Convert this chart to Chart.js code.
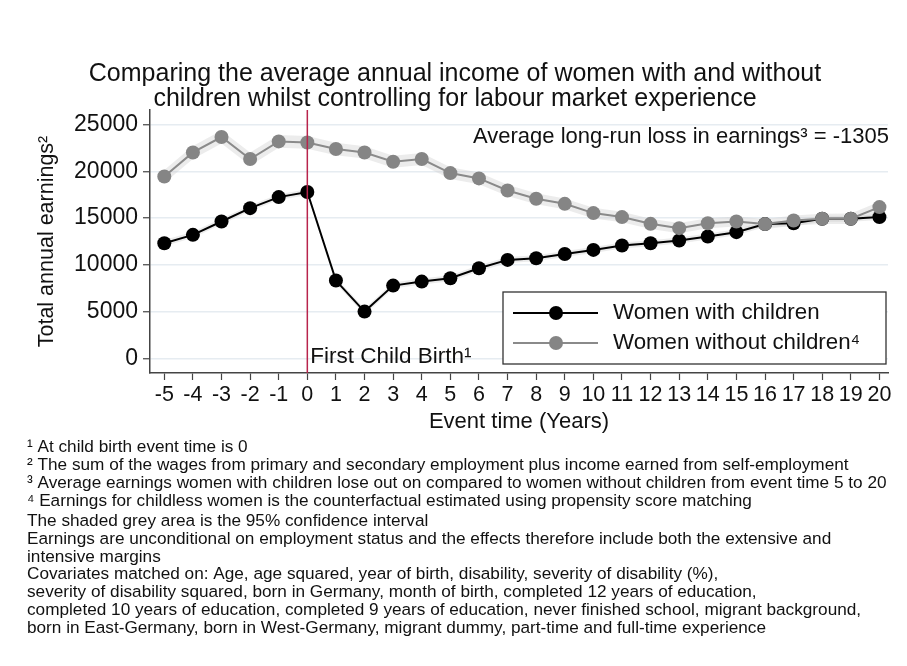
<!DOCTYPE html>
<html>
<head>
<meta charset="utf-8">
<script src="https://cdn.jsdelivr.net/npm/chart.js@4.4.1/dist/chart.umd.min.js"></script>
<style>
  html, body { margin: 0; padding: 0; background: #fff; }
  #wrap { width: 907px; height: 666px; position: relative; }
</style>
</head>
<body>
<div id="wrap"><canvas id="myChart"></canvas></div>
<script>
// Event time (years), first child birth at 0
const eventTimes = [-5, -4, -3, -2, -1, 0, 1, 2, 3, 4, 5, 6, 7, 8, 9, 10, 11, 12, 13, 14, 15, 16, 17, 18, 19, 20];
const yTicks = [0, 5000, 10000, 15000, 20000, 25000];

// Women with children
const withChildren = [12320, 13210, 14640, 16070, 17250, 17790, 8320, 5000, 7780, 8210, 8570, 9640, 10530, 10710, 11170, 11600, 12070, 12320, 12600, 13030, 13500, 14360, 14460, 14930, 14930, 15110];
const withHi = [12650, 13530, 14950, 16380, 17560, 18100, 8650, 5330, 8100, 8530, 8890, 9960, 10850, 11030, 11490, 11920, 12390, 12640, 12920, 13350, 13820, 14680, 14780, 15250, 15250, 15430];
const withLo = [11990, 12890, 14330, 15760, 16940, 17480, 7990, 4670, 7460, 7890, 8250, 9320, 10210, 10390, 10850, 11280, 11750, 12000, 12280, 12710, 13180, 14040, 14140, 14610, 14610, 14790];

// Women without children (matched counterfactual)
const withoutChildren = [19460, 22030, 23680, 21320, 23210, 23100, 22390, 22030, 21030, 21320, 19820, 19250, 17960, 17070, 16530, 15540, 15110, 14390, 13930, 14460, 14640, 14360, 14750, 14930, 14930, 16180];
const withoutHi = [20150, 22720, 24380, 22010, 23900, 23780, 23060, 22690, 21680, 21960, 20450, 19870, 18560, 17660, 17110, 16110, 15670, 14940, 14470, 15000, 15180, 14900, 15290, 15480, 15490, 16750];
const withoutLo = [18770, 21340, 22980, 20630, 22520, 22420, 21720, 21370, 20380, 20680, 19190, 18630, 17360, 16480, 15950, 14970, 14550, 13840, 13390, 13920, 14100, 13820, 14210, 14380, 14370, 15610];

const titleLines = [
  "Comparing the average annual income of women with and without",
  "children whilst controlling for labour market experience",
];
const lossNote = "Average long-run loss in earnings\u00B3 = -1305";
const birthNote = "First Child Birth\u00B9";
const footnotes = [
  "\u00B9 At child birth event time is 0",
  "\u00B2 The sum of the wages from primary and secondary employment plus income earned from self-employment",
  "\u00B3 Average earnings women with children lose out on compared to women without children from event time 5 to 20",
  "\u2074 Earnings for childless women is the counterfactual estimated using propensity score matching",
];
const notes = [
  "The shaded grey area is the 95% confidence interval",
  "Earnings are unconditional on employment status and the effects therefore include both the extensive and",
  "intensive margins",
  "Covariates matched on: Age, age squared, year of birth, disability, severity of disability (%),",
  "severity of disability squared, born in Germany, month of birth, completed 12 years of education,",
  "completed 10 years of education, completed 9 years of education, never finished school, migrant background,",
  "born in East-Germany, born in West-Germany, migrant dummy, part-time and full-time experience",
];

const FONT = '"Liberation Sans", Arial, Helvetica, sans-serif';
const pts = (arr) => eventTimes.map((x, i) => ({ x: x, y: arr[i] }));

// titles, notes, birth marker, legend box
const extras = {
  id: "extras",
  afterDatasetsDraw(chart) {
    const ctx = chart.ctx;
    const xs = chart.scales.x;
    const area = chart.chartArea;
    ctx.save();
    // birth line
    const x0 = xs.getPixelForValue(0);
    ctx.strokeStyle = "#b8244c";
    ctx.lineWidth = 1.5;
    ctx.beginPath();
    ctx.moveTo(x0, area.top);
    ctx.lineTo(x0, area.bottom);
    ctx.stroke();

    ctx.fillStyle = "#111";
    ctx.textBaseline = "middle";
    ctx.font = "22.5px " + FONT;
    ctx.textAlign = "left";
    ctx.fillText(birthNote, x0 + 3, 357);
    ctx.font = "22px " + FONT;
    ctx.textAlign = "right";
    ctx.fillText(lossNote, 889, 137);

    // legend
    ctx.fillStyle = "#fff";
    ctx.fillRect(503, 292, 383, 72);
    ctx.strokeStyle = "#333";
    ctx.lineWidth = 1.3;
    ctx.strokeRect(503, 292, 383, 72);
    const items = [chart.data.datasets[1], chart.data.datasets[0]];
    items.forEach((ds, i) => {
      const y = 313 + i * 30;
      ctx.strokeStyle = ds.borderColor;
      ctx.lineWidth = ds.borderWidth;
      ctx.beginPath();
      ctx.moveTo(513, y);
      ctx.lineTo(598, y);
      ctx.stroke();
      ctx.fillStyle = ds.pointBackgroundColor;
      ctx.beginPath();
      ctx.arc(556, y, ds.pointRadius, 0, Math.PI * 2);
      ctx.fill();
      ctx.fillStyle = "#111";
      ctx.textAlign = "left";
      ctx.font = "22.3px " + FONT;
      ctx.fillText(ds.label, 613, y);
    });
    ctx.restore();
  },
  afterDraw(chart) {
    const ctx = chart.ctx;
    ctx.save();
    ctx.fillStyle = "#111";
    ctx.textBaseline = "middle";
    ctx.textAlign = "center";
    ctx.font = "25px " + FONT;
    titleLines.forEach((t, i) => ctx.fillText(t, 455, 74 + i * 25));
    ctx.textAlign = "left";
    ctx.font = "17.2px " + FONT;
    footnotes.forEach((t, i) => ctx.fillText(t, 27, 447 + i * 18));
    notes.forEach((t, i) => ctx.fillText(t, 27, 521 + i * 17.9));
    ctx.restore();
  },
};

const ctx = document.getElementById("myChart");
new Chart(ctx, {
  type: "line",
  data: {
    datasets: [
      {
        label: "Women without children\u2074",
        data: pts(withoutChildren),
        borderColor: "#8a8a8a",
        borderWidth: 2,
        pointBackgroundColor: "#858585",
        pointBorderWidth: 0,
        pointRadius: 7,
        fill: false,
      },
      {
        label: "Women with children",
        data: pts(withChildren),
        borderColor: "#000",
        borderWidth: 2,
        pointBackgroundColor: "#000",
        pointBorderWidth: 0,
        pointRadius: 7,
        fill: false,
      },
      {
        label: "without hi",
        data: pts(withoutHi),
        borderWidth: 0,
        pointRadius: 0,
        backgroundColor: "rgba(200,200,200,0.35)",
        fill: "+1",
      },
      {
        label: "without lo",
        data: pts(withoutLo),
        borderWidth: 0,
        pointRadius: 0,
        fill: false,
      },
      {
        label: "with hi",
        data: pts(withHi),
        borderWidth: 0,
        pointRadius: 0,
        backgroundColor: "rgba(200,200,200,0.35)",
        fill: "+1",
      },
      {
        label: "with lo",
        data: pts(withLo),
        borderWidth: 0,
        pointRadius: 0,
        fill: false,
      },
    ],
  },
  options: {
    responsive: true,
    maintainAspectRatio: false,
    animation: false,
    events: [],
    layout: { padding: { top: 110, right: 19, bottom: 231, left: 0 } },
    plugins: {
      legend: { display: false },
      tooltip: { enabled: false },
    },
    scales: {
      x: {
        type: "linear",
        min: -5.5,
        max: 20.3,
        afterBuildTicks: (s) => { s.ticks = eventTimes.map((v) => ({ value: v })); },
        afterFit: (s) => { s.height = 62; },
        border: { color: "#444", width: 1.5 },
        grid: { drawOnChartArea: false, tickLength: 7, tickColor: "#444", tickWidth: 1.2 },
        ticks: {
          autoSkip: false,
          maxRotation: 0,
          padding: 2,
          color: "#111",
          font: { family: FONT, size: 21.5 },
        },
        title: {
          display: true,
          text: "Event time (Years)",
          color: "#111",
          font: { family: FONT, size: 22 },
          padding: { top: 0, bottom: 0 },
        },
      },
      y: {
        min: -1570,
        max: 26570,
        afterBuildTicks: (s) => { s.ticks = yTicks.map((v) => ({ value: v })); },
        afterFit: (s) => { s.width = 150; },
        border: { color: "#444", width: 1.5 },
        grid: { color: "#e6ecf1", lineWidth: 1.5, tickLength: 7, tickColor: "#444", tickWidth: 1.2 },
        ticks: {
          padding: 5,
          color: "#111",
          font: { family: FONT, size: 23 },
          callback: (v) => String(v),
        },
        title: {
          display: true,
          text: "Total annual earnings\u00B2",
          color: "#111",
          font: { family: FONT, size: 21.5 },
          padding: { top: 34, bottom: 0 },
        },
      },
    },
  },
  plugins: [extras],
});
</script>
</body>
</html>
